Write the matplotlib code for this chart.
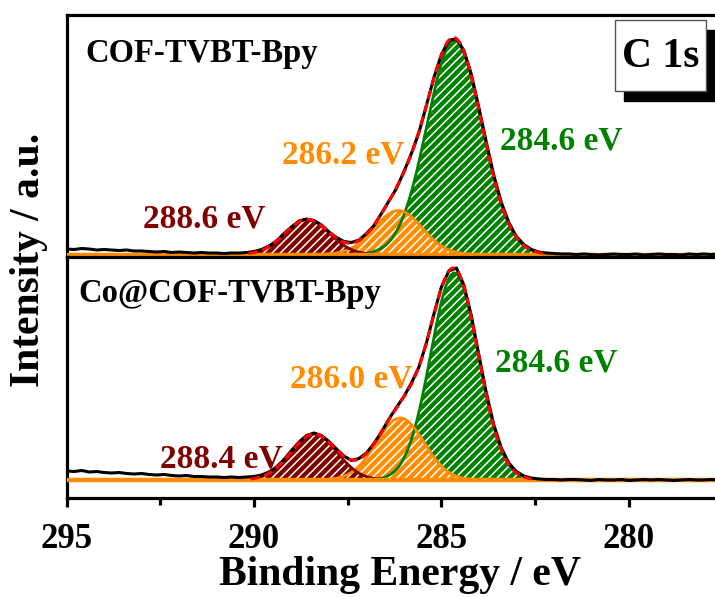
import numpy as np
import matplotlib
matplotlib.use("Agg")
import matplotlib.pyplot as plt
from matplotlib.patches import Rectangle
from matplotlib.ticker import MultipleLocator

plt.rcParams['font.family'] = ['Liberation Serif', 'DejaVu Serif']
plt.rcParams['font.weight'] = 'bold'
plt.rcParams['hatch.linewidth'] = 1.1

# ---------------- data ----------------
energy = np.round(np.arange(295.0, 277.1, -0.2), 1)   # binding energy grid (eV)

raw_top = [5.5, 5.0, 6.0, 5.5, 4.5, 5.0, 4.5, 4.0, 4.5, 3.5,
           3.5, 3.0, 2.5, 3.0, 2.0, 2.5, 2.0, 1.5, 2.0, 1.5,
           1.5, 1.0, 1.5, 1.5, 2.0, 3.0, 5.0, 8.5, 13.5, 21.0,
           27.5, 33.5, 35.5, 34.0, 29.5, 22.5, 17.0, 13.0, 12.0, 14.5,
           21.0, 29.0, 41.0, 53.5, 66.0, 83.0, 101.0, 122.0, 149.0, 177.0,
           200.0, 214.0, 216.0, 204.0, 180.0, 147.0, 112.0, 79.0, 52.0, 32.0,
           18.0, 10.0, 5.0, 2.5, 1.5, 1.0, 0.5, 0.5,
           0.0, 0.5, 0.0, -0.5, 0.0, 0.5, 0.0, 0.0, 0.5, -0.5,
           0.0, 0.5, 0.0, 0.0, -0.5, 0.5, 0.0, 0.5, 0.0, 0.5, 0.0, 0.5]

raw_bottom = [9.0, 8.5, 9.5, 8.0, 8.5, 7.5, 7.0, 7.5, 6.5, 6.0,
              6.5, 5.5, 5.0, 5.5, 4.5, 4.0, 4.5, 3.5, 3.5, 3.0,
              3.0, 2.5, 3.0, 2.5, 3.0, 3.5, 5.0, 8.0, 13.0, 20.5,
              29.5, 38.0, 44.5, 47.0, 44.5, 38.5, 31.0, 24.0, 19.5, 21.5,
              27.0, 36.5, 48.0, 61.0, 72.5, 83.5, 97.0, 113.0, 137.0, 166.0,
              193.0, 209.0, 212.0, 195.0, 164.0, 125.0, 87.0, 55.0, 32.0, 17.0,
              8.5, 4.0, 2.0, 1.0, 0.5, 0.5, 0.0, 0.5,
              0.5, 0.0, -0.5, 0.5, 0.0, 0.0, 0.5, -0.5, 0.0, 0.5,
              0.0, 0.5, 0.0, -0.5, 0.0, 0.5, 0.0, 0.0, 0.5, 0.0, -0.5, 0.0]

# fitted components: (C-C, C-N, C=O) -> green, orange, dark red
top_centers = [284.65, 286.15, 288.58]
top_heights = [214, 44, 35]
top_fwhm = [1.73, 1.5, 1.4]

bottom_centers = [284.65, 286.1, 288.4]
bottom_heights = [207, 62, 46]
bottom_fwhm = [1.5, 1.5, 1.45]

sample_names = ['COF-TVBT-Bpy', 'Co@COF-TVBT-Bpy']
top_peak_labels = ['284.6 eV', '286.2 eV', '288.6 eV']
bottom_peak_labels = ['284.6 eV', '286.0 eV', '288.4 eV']

x_ticks = [295, 290, 285, 280]

# ---------------- style ----------------
GREEN = '#008000'
ORANGE = '#FF8C00'
DRED = '#800000'
comp_colors = [GREEN, ORANGE, DRED]

W, H = 715, 597
fig = plt.figure(figsize=(W / 100, H / 100), dpi=100)

def fx(px):
    return px / W

def fy(py):
    return 1 - py / H

left_px, right_px = 66.7, 730
top_px, mid_px, bot_px = 15, 257, 498
ax_top = fig.add_axes([fx(left_px), fy(mid_px), fx(right_px - left_px), (mid_px - top_px) / H])
ax_bot = fig.add_axes([fx(left_px), fy(bot_px), fx(right_px - left_px), (bot_px - mid_px) / H])

px_per_ev = 37.47
x_right = 295 - (right_px - left_px) / px_per_ev

E_fine = np.linspace(295.0, 277.0, 1200)

def draw_panel(ax, raw, centers, heights, fwhms, ylim):
    comps = [h * np.exp(-4 * np.log(2) * ((E_fine - c) / w) ** 2)
             for c, h, w in zip(centers, heights, fwhms)]
    for i, (comp, col) in enumerate(zip(comps, comp_colors)):
        ax.fill_between(E_fine, 0, comp, facecolor=col, edgecolor='white',
                        hatch='////', linewidth=0, zorder=1 + 0.1 * i)
    for i, (comp, col) in enumerate(zip(comps, comp_colors)):
        ax.plot(E_fine, comp, color=col, lw=2, zorder=2 + 0.1 * i)
    ax.axhline(0, color=ORANGE, lw=3.2, zorder=3)
    ax.plot(energy, raw, color='black', lw=2.2, zorder=4)
    env = np.sum(comps, axis=0)
    env = np.where(env > 1.0, env, np.nan)
    ax.plot(E_fine, env, color='red', lw=2.2, dashes=(3, 1.5), zorder=5)
    ax.set_xlim(295, x_right)
    ax.set_ylim(*ylim)
    ax.set_yticks([])
    for s in ax.spines.values():
        s.set_linewidth(2.3)
    ax.spines['right'].set_visible(False)

draw_panel(ax_top, raw_top, top_centers, top_heights, top_fwhm, (-2.5, 239.5))
draw_panel(ax_bot, raw_bottom, bottom_centers, bottom_heights, bottom_fwhm, (-18, 223))

ax_top.set_xticks([])
ax_bot.set_xticks(x_ticks)
ax_bot.set_xticklabels([str(t) for t in x_ticks])
ax_bot.xaxis.set_minor_locator(MultipleLocator(2.5))
ax_bot.tick_params(axis='x', which='major', direction='out', length=6.5, width=2.3,
                   labelsize=25, pad=11.5)
ax_bot.tick_params(axis='x', which='minor', direction='out', length=5, width=2.3)

# axis labels
fig.text(fx(400), fy(585), 'Binding Energy / eV', fontsize=30, ha='center', va='baseline')
fig.text(fx(29), fy(259.5), 'Intensity / a.u.', fontsize=30, rotation=90,
         ha='center', va='center')

# sample names
fig.text(fx(85), fy(62), sample_names[0], fontsize=23.5, ha='left', va='baseline')
fig.text(fx(78), fy(302), sample_names[1], fontsize=23.5, ha='left', va='baseline')

# peak labels
top_label_pos = [(500, 150), (282, 163), (143, 228)]
bot_label_pos = [(495, 372), (290, 388), (160, 468)]
for txt, (px, py), col in zip(top_peak_labels, top_label_pos, comp_colors):
    fig.text(fx(px), fy(py), txt, fontsize=24, color=col, ha='left', va='baseline')
for txt, (px, py), col in zip(bottom_peak_labels, bot_label_pos, comp_colors):
    fig.text(fx(px), fy(py), txt, fontsize=24, color=col, ha='left', va='baseline')

# "C 1s" box with shadow
bx0, by0, bx1, by1 = 615, 20, 706, 91
off_x, off_y = 9, 10
fig.patches.append(Rectangle((fx(bx0 + off_x), fy(by1 + off_y)), fx(bx1 - bx0), (by1 - by0) / H,
                             transform=fig.transFigure, facecolor='black',
                             edgecolor='black', zorder=10))
fig.patches.append(Rectangle((fx(bx0), fy(by1)), fx(bx1 - bx0), (by1 - by0) / H,
                             transform=fig.transFigure, facecolor='white',
                             edgecolor='#555555', lw=1, zorder=11))
fig.text(fx((bx0 + bx1) / 2), fy(57), 'C 1s', fontsize=30, ha='center', va='center',
         zorder=12)

fig.savefig('out.png', dpi=100)
